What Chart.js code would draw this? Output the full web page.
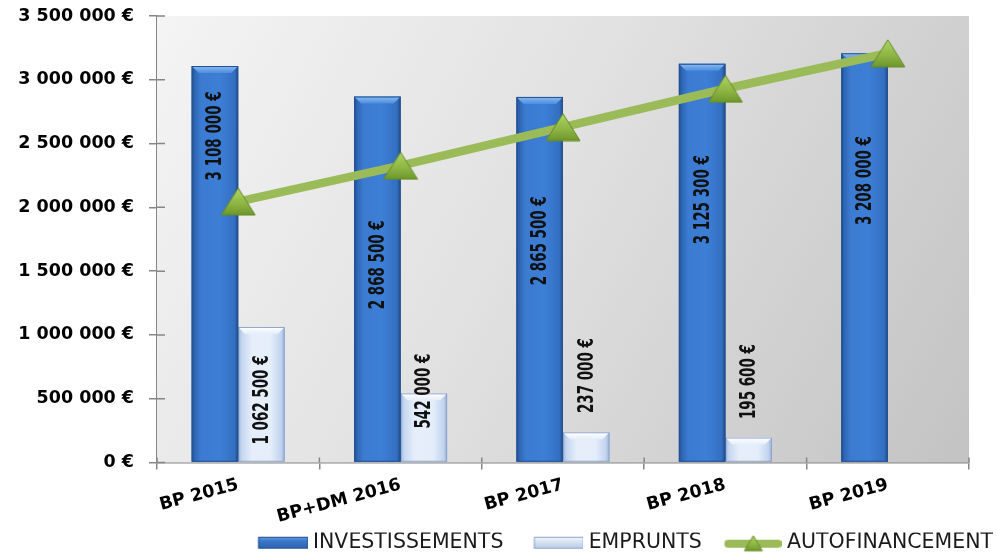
<!DOCTYPE html>
<html><head><meta charset="utf-8">
<script src="https://cdn.jsdelivr.net/npm/chart.js@4.4.1/dist/chart.umd.min.js"></script>
<style>html,body{margin:0;padding:0;background:#fff;}</style>
</head><body>
<canvas id="c" width="997" height="553"></canvas>
<script>
// ---- data ----
const categories = ['BP 2015', 'BP+DM 2016', 'BP 2017', 'BP 2018', 'BP 2019'];
const investissements = [3108000, 2868500, 2865500, 3125300, 3208000];
const emprunts = [1062500, 542000, 237000, 195600, null];
const autofinancement = [2045500, 2326500, 2628500, 2929700, 3208000];
const seriesNames = ['INVESTISSEMENTS', 'EMPRUNTS', 'AUTOFINANCEMENT'];
const yMin = 0, yMax = 3500000, yStep = 500000;

const fmt = v => String(v).replace(/\B(?=(\d{3})+(?!\d))/g, ' ') + ' €';

// ---- styles ----
const INV = {side: [[0,'#214f94'],[0.07,'#2f67b5'],[0.2,'#3b7bd1'],[0.6,'#3d7fd6'],[0.92,'#336fc2'],[1,'#214a86']],
  top0: '#8cbcf2', top1: '#4b8ddf', border: '#24528f', flat: '#3a78cc', lg0: '#6aa3ea', lg1: '#2c62ad'};
const EMP = {side: [[0,'#9fb6db'],[0.08,'#c7d7f0'],[0.3,'#e6eefa'],[0.7,'#e4edfa'],[0.92,'#c3d4ee'],[1,'#98afd5']],
  top0: '#ffffff', top1: '#e6eefa', border: '#8ea5cb', flat: '#dce7f7', lg0: '#f7faff', lg1: '#b7c9e6'};
const GREEN = '#9bbb59';

function triCanvas(w, h) {
  const c = document.createElement('canvas'); c.width = w; c.height = h;
  const x = c.getContext('2d');
  const g = x.createLinearGradient(0, 0, 0, h);
  g.addColorStop(0, '#b2d664'); g.addColorStop(0.6, '#8cb443'); g.addColorStop(1, '#6a9428');
  x.beginPath(); x.moveTo(w/2, 1); x.lineTo(w-1, h-1); x.lineTo(1, h-1); x.closePath();
  x.fillStyle = g; x.fill();
  x.strokeStyle = '#658a25'; x.lineWidth = 1; x.stroke();
  return c;
}
const triPoint = triCanvas(36, 29);

const LEG_FONT = 20.5, LEG_BW = 75;
function legendBox(pal) {
  const W = LEG_BW + LEG_FONT - 10, H = 14;
  const c = document.createElement('canvas'); c.width = W; c.height = H;
  const x = c.getContext('2d');
  const l = W - 50, t = 1, h = 12;
  const g = x.createLinearGradient(0, t, 0, t + h);
  g.addColorStop(0, pal.lg0); g.addColorStop(0.35, pal.flat); g.addColorStop(1, pal.lg1);
  x.fillStyle = g; x.fillRect(l, t, 50, h);
  x.strokeStyle = pal.border; x.lineWidth = 1; x.strokeRect(l + 0.5, t + 0.5, 49, h - 1);
  return c;
}
function legendLine() {
  const W = LEG_BW + LEG_FONT - 10, H = 20;
  const c = document.createElement('canvas'); c.width = W; c.height = H;
  const x = c.getContext('2d');
  const l = W - 58 + 4, r = W - 4, cy = 11;
  x.strokeStyle = GREEN; x.lineWidth = 8; x.lineCap = 'round';
  x.beginPath(); x.moveTo(l, cy); x.lineTo(r, cy); x.stroke();
  const t = triCanvas(20, 17);
  x.drawImage(t, (l + r) / 2 - 10, 2);
  return c;
}

// ---- plugins ----
const plotBg = {
  id: 'plotBg',
  beforeDatasetsDraw(chart) {
    const {ctx, chartArea: a} = chart;
    const g = ctx.createLinearGradient(a.left, a.top, a.right, a.bottom);
    g.addColorStop(0, '#f4f4f4'); g.addColorStop(0.45, '#e1e1e1'); g.addColorStop(1, '#c3c3c3');
    ctx.save(); ctx.fillStyle = g; ctx.fillRect(a.left, a.top, a.right - a.left, a.bottom - a.top); ctx.restore();
  }
};

function drawBevelBar(ctx, l, t, w, h, pal) {
  if (h <= 0) return;
  const g = ctx.createLinearGradient(l, 0, l + w, 0);
  pal.side.forEach(([o, c]) => g.addColorStop(o, c));
  ctx.fillStyle = g; ctx.fillRect(l, t, w, h);
  const b = Math.min(7, h / 2);
  const tg = ctx.createLinearGradient(0, t, 0, t + b);
  tg.addColorStop(0, pal.top0); tg.addColorStop(1, pal.top1);
  ctx.beginPath(); ctx.moveTo(l, t); ctx.lineTo(l + w, t); ctx.lineTo(l + w - b, t + b); ctx.lineTo(l + b, t + b); ctx.closePath();
  ctx.fillStyle = tg; ctx.fill();
  ctx.strokeStyle = pal.border; ctx.lineWidth = 1; ctx.strokeRect(l + 0.5, t + 0.5, w - 1, h - 1);
}
const bevelBars = {
  id: 'bevelBars',
  afterDatasetDraw(chart, args) {
    if (args.meta.type !== 'bar') return;
    const pal = args.index === 0 ? INV : EMP;
    const ctx = chart.ctx; ctx.save();
    args.meta.data.forEach((el, i) => {
      if (chart.data.datasets[args.index].data[i] == null) return;
      const {x, y, base, width} = el.getProps(['x', 'y', 'base', 'width'], true);
      drawBevelBar(ctx, x - width / 2, Math.min(y, base), width, Math.abs(base - y), pal);
    });
    ctx.restore();
  }
};

const barLabels = {
  id: 'barLabels',
  // label centres, in axis units
  at: [[2560000, 1550000, 1738000, 2060000, 2210000], [490000, 560000, 681000, 634000, null]],
  afterDatasetsDraw(chart) {
    const ctx = chart.ctx, ys = chart.scales.y;
    ctx.save();
    ctx.font = 'bold 21px "DejaVu Sans", sans-serif';
    const sx = 89 / ctx.measureText('3 108 000 €').width; // condensed look
    ctx.fillStyle = '#111'; ctx.textAlign = 'center'; ctx.textBaseline = 'middle';
    [0, 1].forEach(d => {
      const meta = chart.getDatasetMeta(d), vals = chart.data.datasets[d].data;
      meta.data.forEach((el, i) => {
        if (vals[i] == null) return;
        const {x} = el.getProps(['x'], true);
        ctx.save(); ctx.translate(x + 1, ys.getPixelForValue(this.at[d][i])); ctx.rotate(-Math.PI / 2);
        ctx.scale(sx, 1);
        ctx.fillText(fmt(vals[i]), 0, 0); ctx.restore();
      });
    });
    ctx.restore();
  }
};

const crossTicks = {
  id: 'crossTicks',
  afterDraw(chart) {
    const {ctx, chartArea: a, scales: {x, y}} = chart;
    ctx.save(); ctx.strokeStyle = '#868686'; ctx.lineWidth = 1.5; ctx.beginPath();
    y.ticks.forEach(t => { const p = y.getPixelForValue(t.value); ctx.moveTo(a.left, p); ctx.lineTo(a.left + 8, p); });
    for (let i = 0; i <= categories.length; i++) { const p = x.getPixelForValue(i - 0.5); ctx.moveTo(p, a.bottom); ctx.lineTo(p, a.bottom - 5); }
    ctx.stroke(); ctx.restore();
  }
};

const legendImgs = [legendBox(INV), legendBox(EMP), legendLine()];

new Chart(document.getElementById('c'), {
  data: {
    labels: categories,
    datasets: [
      {type: 'bar', label: seriesNames[0], data: investissements, backgroundColor: INV.flat, borderWidth: 0,
        categoryPercentage: 0.573, barPercentage: 1},
      {type: 'bar', label: seriesNames[1], data: emprunts, backgroundColor: EMP.flat, borderWidth: 0,
        categoryPercentage: 0.573, barPercentage: 1},
      {type: 'line', label: seriesNames[2], data: autofinancement, borderColor: GREEN, borderWidth: 8.5,
        tension: 0, pointStyle: triPoint, pointRadius: 12, pointHoverRadius: 12, pointBorderWidth: 0,
        order: -1, fill: false, borderCapStyle: 'round'}
    ]
  },
  options: {
    responsive: false, animation: false,
    layout: {autoPadding: false, padding: {top: 16, right: 4, bottom: -10, left: 0}},
    plugins: {
      tooltip: {enabled: false},
      legend: {
        position: 'bottom', align: 'end',
        labels: {
          usePointStyle: true, pointStyleWidth: LEG_BW, padding: 0,
          font: {family: '"DejaVu Sans", sans-serif', size: LEG_FONT}, color: '#1a1a1a',
          generateLabels: (chart) => chart.data.datasets.map((ds, i) => ({
            text: ds.label, pointStyle: legendImgs[i], fillStyle: 'transparent', strokeStyle: 'transparent',
            lineWidth: 0, hidden: false, datasetIndex: i, fontColor: '#1a1a1a'
          }))
        }
      }
    },
    scales: {
      x: {
        type: 'category', offset: true,
        grid: {display: true, offset: true, drawOnChartArea: false, drawTicks: true, tickLength: 7, color: '#868686', lineWidth: 1.5},
        border: {display: true, color: '#868686', width: 1.5},
        ticks: {autoSkip: false, minRotation: 15, maxRotation: 15, padding: 5, color: '#000',
          font: {family: '"DejaVu Sans", sans-serif', weight: 'bold', size: 17.5}},
        afterFit: s => { s.height = 70; }
      },
      y: {
        type: 'linear', position: 'left', min: yMin, max: yMax,
        grid: {drawOnChartArea: false, drawTicks: true, tickLength: 8, color: '#868686', lineWidth: 1.5},
        border: {display: true, color: '#868686', width: 1.5},
        ticks: {stepSize: yStep, padding: 15, color: '#000', callback: v => fmt(v),
          font: {family: '"DejaVu Sans", sans-serif', weight: 'bold', size: 17.5}},
        afterFit: s => { s.width = 157; s.paddingTop = 0; s.paddingBottom = 0; }
      },
      yPad: {
        type: 'linear', position: 'right', display: true,
        grid: {display: false}, border: {display: false}, ticks: {display: false},
        afterFit: s => { s.width = 24; s.paddingTop = 0; s.paddingBottom = 0; }
      }
    }
  },
  plugins: [plotBg, bevelBars, barLabels, crossTicks]
});
</script>
</body></html>
